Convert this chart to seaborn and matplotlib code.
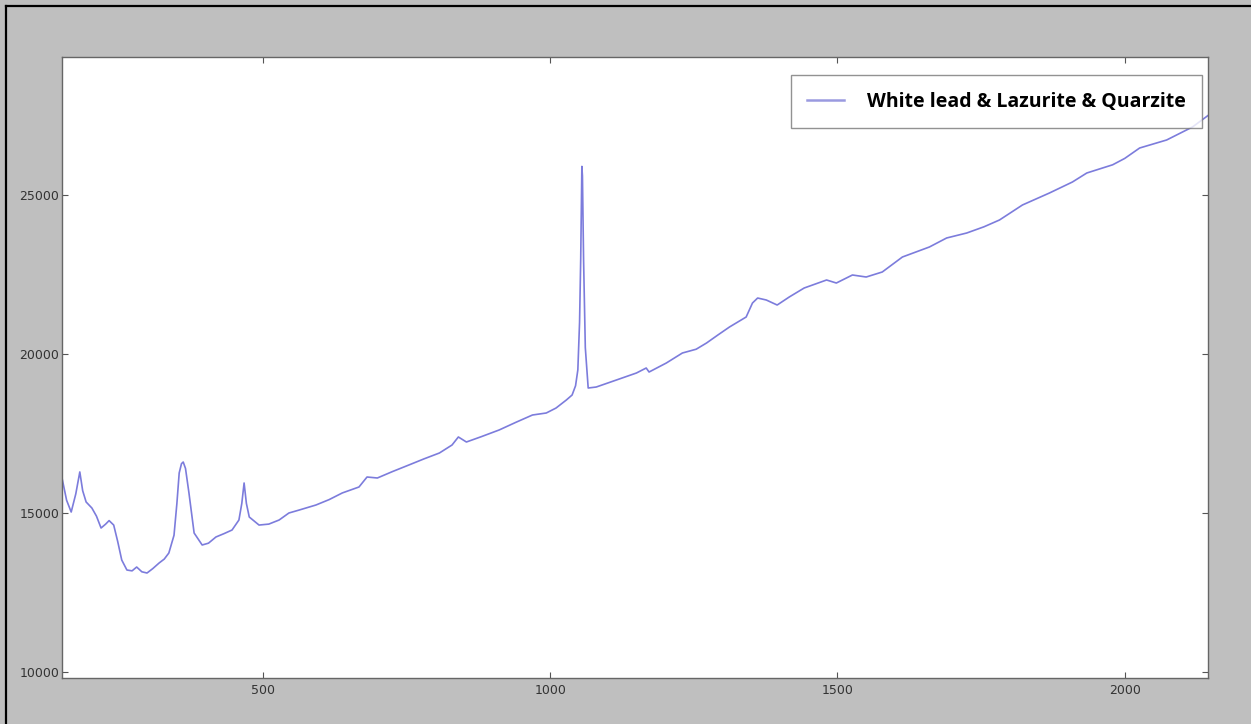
import numpy as np
import pandas as pd
import matplotlib
matplotlib.use("Agg")
import matplotlib.pyplot as plt
from matplotlib.lines import Line2D
import seaborn as sns

# Raman shift (cm-1) and intensity
raman_shift = [150, 158, 166, 174, 181, 186, 192, 202, 210, 218, 226, 232, 240, 247,
               254, 263, 272, 280, 289, 298, 308, 319, 328, 336, 345, 350, 354, 358,
               361, 365, 371, 380, 394, 405, 418, 432, 446, 458, 463, 467, 471, 476,
               493, 510, 528, 545, 563, 592, 615, 638, 667, 681, 699, 725, 754, 780,
               807, 829, 840, 854, 880, 911, 940, 969, 993, 1010, 1028, 1038, 1044,
               1048, 1051, 1053, 1055, 1056, 1058, 1061, 1066, 1080, 1115, 1150, 1167,
               1172, 1202, 1230, 1254, 1272, 1292, 1312, 1341, 1352, 1361, 1376, 1395,
               1416, 1442, 1481, 1498, 1526, 1550, 1578, 1613, 1660, 1690, 1725, 1755,
               1782, 1822, 1869, 1909, 1934, 1979, 2000, 2026, 2073, 2118, 2145]
intensity = [16100, 15400, 15030, 15600, 16290, 15700, 15345, 15156, 14900, 14527, 14650,
             14760, 14620, 14100, 13520, 13206, 13180, 13300, 13150, 13112, 13250, 13426,
             13550, 13741, 14300, 15300, 16257, 16550, 16603, 16400, 15630, 14370, 13993,
             14050, 14245, 14350, 14464, 14779, 15300, 15943, 15300, 14873, 14620, 14650,
             14779, 14999, 15093, 15250, 15420, 15630, 15817, 16131, 16100, 16300, 16510,
             16700, 16886, 17138, 17390, 17232, 17400, 17610, 17850, 18081, 18144, 18300,
             18553, 18710, 19000, 19500, 21000, 23000, 25900, 25600, 22950, 20200, 18930,
             18961, 19181, 19402, 19559, 19433, 19716, 20031, 20150, 20345, 20600, 20849,
             21163, 21603, 21760, 21698, 21540, 21792, 22075, 22327, 22232, 22484, 22421,
             22579, 23050, 23365, 23648, 23805, 24000, 24214, 24686, 25063, 25409, 25692,
             25950, 26150, 26478, 26730, 27139, 27500]

series_label = "White lead & Lazurite & Quarzite"
x_ticks = [500, 1000, 1500, 2000]
y_ticks = [10000, 15000, 20000, 25000]

df = pd.DataFrame({"shift": raman_shift, "intensity": intensity})

W, H = 1251, 724
fig = plt.figure(figsize=(W / 100, H / 100), dpi=100, facecolor="#bfbfbf")
ax = fig.add_axes([62 / W, 1 - 678 / H, 1146 / W, 621 / H])
ax.set_facecolor("white")

line_color = "#7c7cdc"
sns.lineplot(data=df, x="shift", y="intensity", ax=ax, color=line_color,
             linewidth=1.2, label=series_label, legend=False)

ax.set_xlim(raman_shift[0], raman_shift[-1])
ax.set_ylim(9810, 29340)
ax.set_xticks(x_ticks)
ax.set_yticks(y_ticks)
ax.set_xticklabels([str(t) for t in x_ticks])
ax.set_yticklabels([str(t) for t in y_ticks])
ax.set_xlabel("")
ax.set_ylabel("")
ax.tick_params(direction="in", length=4, width=0.8, color="#555555",
               labelsize=9, labelcolor="#333333", top=True, right=True)
ax.tick_params(axis="y", pad=2)
ax.tick_params(axis="x", pad=4)
for s in ax.spines.values():
    s.set_color("#666666")
    s.set_linewidth(1.0)

handle = Line2D([], [], color="#9a9ae0", linewidth=1.8)
leg = ax.legend([handle], [series_label], loc="upper right",
                bbox_to_anchor=(1140 / 1146, 1 - 18 / 621), borderaxespad=0,
                prop={"family": "Open Sans", "weight": "bold", "size": 14},
                fancybox=False, frameon=True, borderpad=0.85,
                handlelength=1.9, handletextpad=1.15)
leg.get_frame().set_edgecolor("#777777")
leg.get_frame().set_linewidth(1.0)

# partial black frame of the screenshot (top and left)
fig.add_artist(Line2D([6 / W, 6 / W], [0, 1 - 6 / H], transform=fig.transFigure,
                      color="black", linewidth=1.6))
fig.add_artist(Line2D([6 / W, 1], [1 - 6 / H, 1 - 6 / H], transform=fig.transFigure,
                      color="black", linewidth=1.6))

fig.savefig("out.png", dpi=100, facecolor=fig.get_facecolor())
